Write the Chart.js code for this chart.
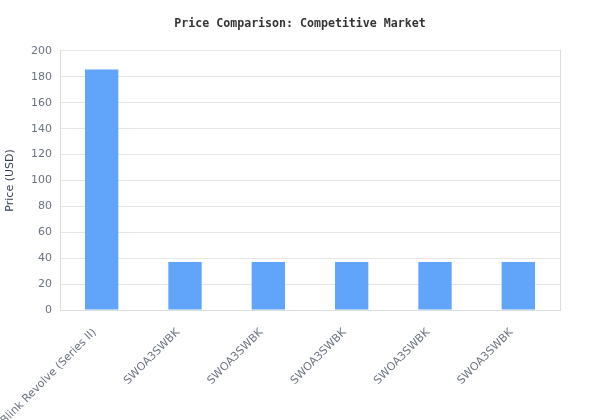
<!DOCTYPE html>
<html>
<head>
<meta charset="utf-8">
<script src="https://cdn.jsdelivr.net/npm/chart.js@4.4.0/dist/chart.umd.min.js"></script>
<style>
  html, body { margin: 0; padding: 0; background: #fff; }
  #wrap { width: 600px; height: 420px; }
</style>
</head>
<body>
<div id="wrap"><canvas id="priceChart"></canvas></div>
<script>
const products = ['Blink Revolve (Series II)', 'SWOA3SWBK', 'SWOA3SWBK', 'SWOA3SWBK', 'SWOA3SWBK', 'SWOA3SWBK'];
const prices = [185.6, 37, 37, 37, 37, 37];

const ctx = document.getElementById('priceChart').getContext('2d');
new Chart(ctx, {
  type: 'bar',
  data: {
    labels: products,
    datasets: [{
      label: 'Price (USD)',
      data: prices,
      backgroundColor: '#60a5fa',
      barPercentage: 0.5,
      categoryPercentage: 0.8
    }]
  },
  options: {
    responsive: true,
    maintainAspectRatio: false,
    animation: false,
    plugins: {
      legend: { display: false },
      title: {
        display: true,
        text: 'Price Comparison: Competitive Market',
        color: '#333',
        font: { family: 'DejaVu Sans Mono', size: 11.6, weight: 'bold' },
        padding: { top: 17, bottom: 20 }
      }
    },
    scales: {
      x: {
        grid: { display: false },
        border: { color: '#ddd' },
        afterFit: (axis) => {
          axis.height = 110;
          axis.paddingLeft = 0;
          axis.paddingRight = 0;
        },
        ticks: {
          color: '#6b7280',
          font: { family: 'DejaVu Sans', size: 11 },
          padding: 8,
          labelOffset: -7,
          maxRotation: 45,
          minRotation: 45
        }
      },
      y: {
        min: 0,
        max: 200,
        grid: { color: '#e5e5e5', drawTicks: false },
        border: { color: '#ddd' },
        afterFit: (axis) => { axis.width = 60; },
        ticks: {
          stepSize: 20,
          padding: 8,
          color: '#6b7280',
          font: { family: 'DejaVu Sans', size: 11 }
        },
        title: {
          display: true,
          text: 'Price (USD)',
          color: '#374151',
          font: { family: 'DejaVu Sans', size: 11 }
        }
      },
      yRight: {
        position: 'right',
        grid: { display: false },
        border: { display: true, color: '#ddd' },
        afterFit: (axis) => { axis.width = 40; },
        ticks: { display: false }
      }
    }
  }
});
</script>
</body>
</html>
